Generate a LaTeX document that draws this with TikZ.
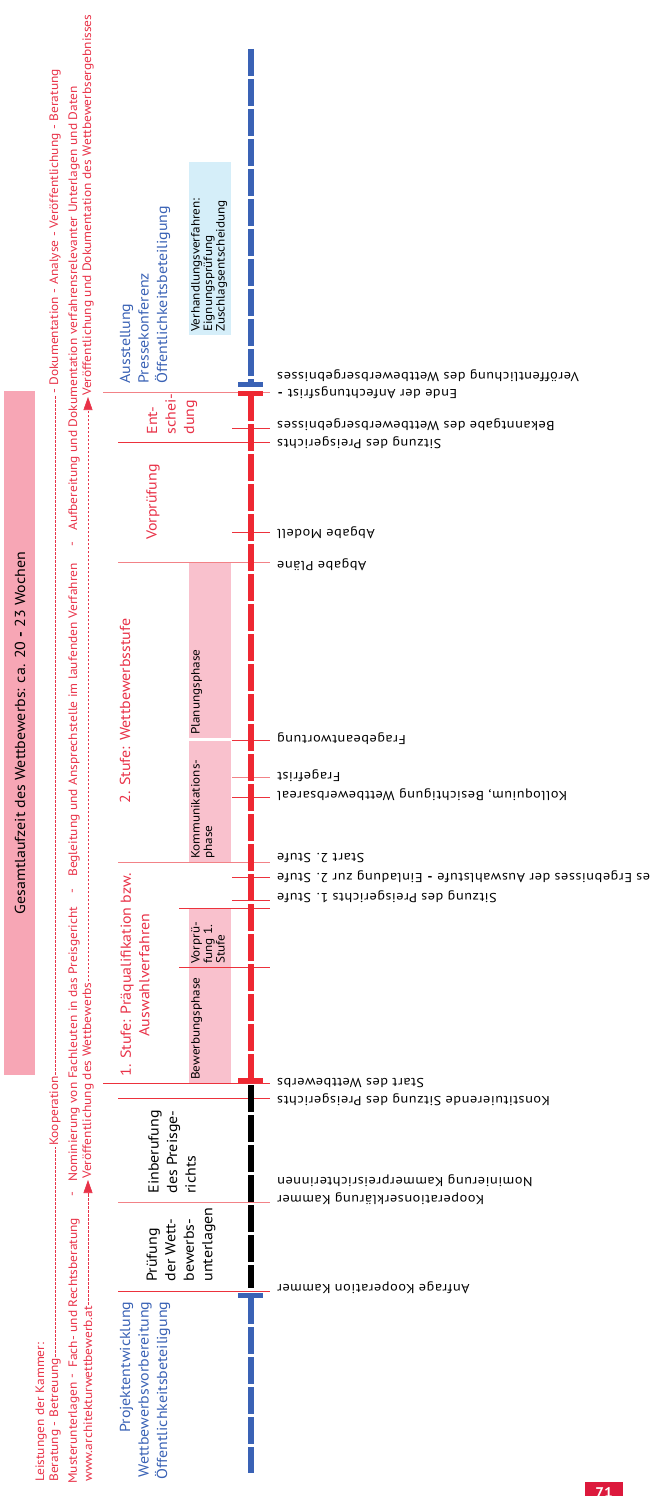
\documentclass[tikz,border=0pt]{standalone}
\usepackage{fontspec}
\setmainfont{PT Sans}[FakeStretch=1.1]
\newfontfamily\evfont{PT Sans}[FakeStretch=1.1, LetterSpace=4.0]
\usetikzlibrary{arrows.meta}
\definecolor{kred}{RGB}{232,50,72}
\definecolor{lred}{RGB}{238,40,50}
\definecolor{kpink}{RGB}{247,166,181}
\definecolor{bpink}{RGB}{249,193,205}
\definecolor{kblue}{RGB}{58,98,181}
\definecolor{lblue}{RGB}{213,238,249}
\definecolor{sepred}{RGB}{236,50,60}
\definecolor{seppink}{RGB}{242,130,135}
\definecolor{pnred}{RGB}{220,25,60}
\begin{document}
\begin{tikzpicture}[x=1pt, y=-1pt,
    up/.style={rotate=90, anchor=west, inner sep=1pt},
    small/.style={font=\fontsize{12.2}{13}\selectfont},
    mid/.style={font=\fontsize{14.5}{18.5}\selectfont},
    boxtext/.style={rotate=90, anchor=north west, align=left, inner sep=1pt, font=\fontsize{12}{12.5}\selectfont},
    evlabel/.style={rotate=180, anchor=east, inner sep=0pt, font=\evfont\fontsize{13}{15}\selectfont},
    lead/.style={kred, dash pattern=on 2.5pt off 1.5pt, line width=0.6pt},
    tick/.style={sepred, line width=0.7pt},
    ltick/.style={seppink, line width=0.7pt},
    track/.style={line width=6.5pt, dash pattern=on 27pt off 3pt},
    endbar/.style={line width=5pt}]
    \useasboundingbox (0,0) rectangle (650,1496);

    \fill[kpink] (4,391) rectangle (35,1075);
    \node[rotate=90, mid] (dauer) at (20,733) {Gesamtlaufzeit des Wettbewerbs: ca. 20 \textbf{-} 23 Wochen};

    \node[up, small, text=kred] (leist) at (41,1483) {Leistungen der Kammer:};
    \node[up, small, text=kred] (betr) at (55,1483) {Beratung - Betreuung};
    \node[up, small, text=kred] (koop) at (55,1147) {Kooperation};
    \node[up, small, text=kred] (analyse) at (55,395) {- Dokumentation - Analyse - Veröffentlichung - Beratung};
    \draw[lead] (betr.east) -- (koop.west);
    \draw[lead] (koop.east) -- (analyse.west);

    \foreach \y/\t [count=\i] in {1485/Musterunterlagen, 1369/{Fach- und Rechtsberatung}, 1183/{Nominierung von Fachleuten in das Preisgericht}, 878/{Begleitung und Ansprechstelle im laufenden Verfahren}, 532/{Aufbereitung und Dokumentation verfahrensrelevanter Unterlagen und Daten}}
        \node[up, small, text=kred] (muster\i) at (74,\y) {\t};
    \foreach \y [count=\i] in {1376,1194,891,544}
        \node[rotate=90, small, text=kred, inner sep=0pt] (strich\i) at (74,\y) {-};

    \node[up, small, text=kred] (www) at (88,1483) {www.architekturwettbewerb.at};
    \node[up, small, text=kred] (publ) at (88,1180) {Veröffentlichung des Wettbewerbs};
    \node[up, small, text=kred] (publ2) at (88,397) {Veröffentlichung und Dokumentation des Wettbewerbsergebnisses};
    \draw[lead, -{Triangle[length=13pt, width=9pt]}] (www.east) -- (publ.west);
    \draw[lead, -{Triangle[length=13pt, width=9pt]}] (publ.east) -- (publ2.west);

    \node[rotate=90, anchor=east, align=right, mid, text=kblue] (projekt) at (145,1298) {Projektentwicklung\\Wettbewerbsvorbereitung\\Öffentlichkeitsbeteiligung};
    \node[rotate=90, anchor=west, align=left, mid, text=kblue] (ausst) at (145,387) {Ausstellung\\Pressekonferenz\\Öffentlichkeitsbeteiligung};

    \node[rotate=90, anchor=west, align=left, mid] (pruef) at (181,1285) {Prüfung\\der Wett-\\bewerbs-\\unterlagen};
    \node[rotate=90, anchor=west, align=left, mid] (einb) at (172,1197) {Einberufung\\des Preisge-\\richts};
    \node[rotate=90, align=center, mid, text=kred] (stufe1) at (135,975) {1. Stufe: Präqualifikation bzw.\\Auswahlverfahren};
    \node[rotate=90, mid, text=kred] (stufe2) at (125,711) {2. Stufe: Wettbewerbsstufe};
    \node[rotate=90, mid, text=kred] (vorpr) at (153,502) {Vorprüfung};
    \node[rotate=90, anchor=west, align=left, mid, text=kred] (entsch) at (172,438) {Ent-\\schei-\\dung};

    \fill[bpink] (189,967) rectangle (231,1083);
    \fill[bpink] (189,908) rectangle (231,967);
    \fill[bpink] (189,741) rectangle (231,862);
    \fill[bpink] (189,562) rectangle (231,738);
    \fill[lblue] (189,162) rectangle (231,335);
    \node[boxtext] (bewerb) at (190,1081) {Bewerbungsphase};
    \node[boxtext] (vp1) at (190,965) {Vorprü-\\fung 1.\\Stufe};
    \node[boxtext] (komm) at (190,860) {Kommunikations-\\phase};
    \node[boxtext] (plan) at (190,736) {Planungsphase};
    \node[boxtext] (verh) at (190,333) {Verhandlungsverfahren:\\Eignungsprüfung\\Zuschlagsentscheidung};

    \foreach \y/\x/\s in {392/103/ltick, 428/232/tick, 442/118/tick, 532/232/tick, 562/118/ltick, 740/232/tick, 777/232/ltick, 797/232/tick, 862/118/ltick, 877/232/tick, 900/232/tick, 908/179/tick, 967/179/tick, 1083/103/tick, 1098/118/tick, 1202/118/ltick, 1291/118/tick}
        \draw[\s] (\x,\y) -- (270,\y);

    \draw[track, kblue] (251,49) -- (251,384);
    \draw[endbar, kblue] (238,384.5) -- (263,384.5);
    \draw[track, lred] (251,394) -- (251,1080);
    \draw[endbar, lred] (238,393.5) -- (263,393.5);
    \draw[endbar, lred] (238,1080) -- (263,1080);
    \draw[track, black] (251,1085) -- (251,1288);
    \draw[endbar, kblue] (238,1295) -- (263,1295);
    \draw[track, kblue] (251,1297) -- (251,1473);

    \foreach \y/\t [count=\i] in {376/Veröffentlichung des Wettbewerbsergebnisses, 393/{Ende der Anfechtungsfrist \textbf{-}}, 425/Bekanntgabe des Wettbewerbsergebnisses, 443/Sitzung des Preisgerichts, 533/Abgabe Modell, 565/Abgabe Pläne, 739/Fragebeantwortung, 776/Fragefrist, 795/{Kolloquium, Besichtigung Wettbewerbsareal}, 858/Start 2. Stufe, 877/{des Ergebnisses der Auswahlstufe \textbf{-} Einladung zur 2. Stufe}, 897/Sitzung des Preisgerichts 1. Stufe, 1083/Start des Wettbewerbs, 1100/Konstituierende Sitzung des Preisgerichts, 1181/Nominierung Kammerpreisrichterinnen, 1199/Kooperationserklärung Kammer, 1288/Anfrage Kooperation Kammer}
        \node[evlabel] (ereignis\i) at (277,\y) {\t};

    \fill[pnred] (585,1482) rectangle (623,1500);
    \node[anchor=north, text=white, font=\bfseries\fontsize{14}{14}\selectfont] (seite) at (604,1484) {71};
\end{tikzpicture}
\end{document}
